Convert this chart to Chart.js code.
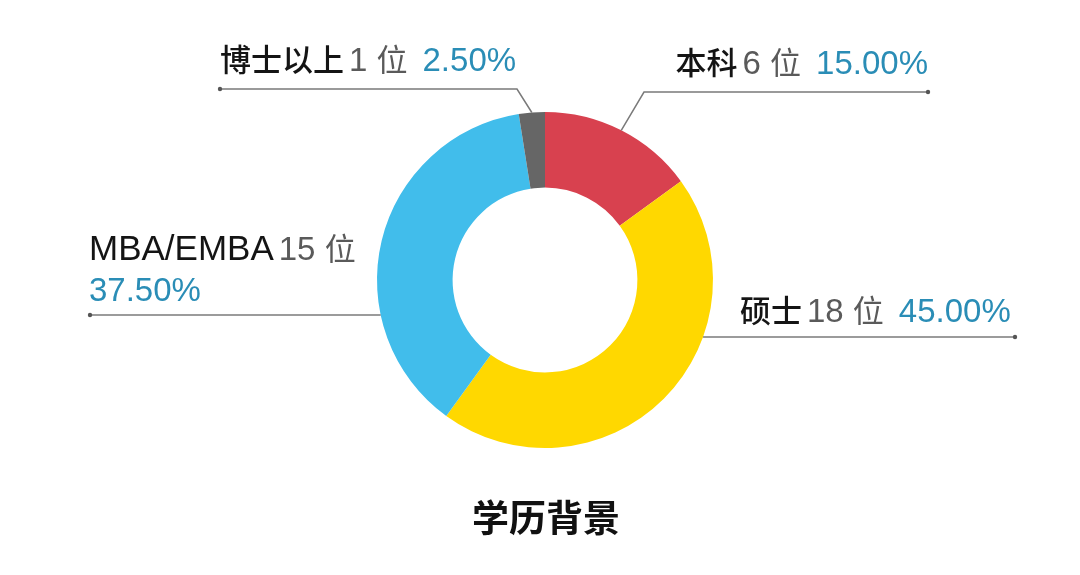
<!DOCTYPE html>
<html>
<head>
<meta charset="utf-8">
<script src="https://cdn.jsdelivr.net/npm/chart.js@4/dist/chart.umd.min.js"></script>
<style>
  html, body { margin: 0; padding: 0; background: #ffffff; }
  #wrap { width: 1080px; height: 575px; position: relative; }
</style>
</head>
<body>
<div id="wrap"><canvas id="c" width="1080" height="575"></canvas></div>
<script>
// ---- data ----
const categories = ['本科', '硕士', 'MBA/EMBA', '博士以上'];
const counts = [6, 18, 15, 1];
const unitLabel = '位';
const chartTitle = '学历背景';
const sliceColors = ['#D8414F', '#FFD800', '#41BDEB', '#666666'];

// ---- layout of callouts (positions only) ----
const callouts = [
  { kind: 'elbow', elbow: [644, 92], endX: 928, text: { x: 928, y: 74, align: 'right', twoLine: false } },
  { kind: 'flat', y: 337, endX: 1015, text: { x: 740, y: 322, align: 'left', twoLine: false } },
  { kind: 'flat', y: 315, endX: 90, text: { x: 89, y: 260, y2: 301, align: 'left', twoLine: true } },
  { kind: 'elbow', elbow: [517, 89], endX: 220, text: { x: 220, y: 71, align: 'left', twoLine: false } }
];

const total = counts.reduce((a, b) => a + b, 0);
const pctLabels = counts.map(v => (v / total * 100).toFixed(2) + '%');

const FONT_LATIN = '"Liberation Sans", Arial, "Noto Sans CJK SC", sans-serif';
const FONT_CJK = '"Noto Sans CJK SC", "Liberation Sans", sans-serif';

function runs(i) {
  const latinName = /^[A-Za-z]/.test(categories[i]);
  return [
    { t: categories[i], font: latinName ? ('35px ' + FONT_LATIN) : ('500 31px ' + FONT_CJK), color: '#141414', gap: 5 },
    { t: String(counts[i]) + ' ', font: '33px ' + FONT_LATIN, color: '#5a5a5a', gap: 0 },
    { t: unitLabel, font: '31px ' + FONT_CJK, color: '#5a5a5a', gap: 15 },
    { t: pctLabels[i], font: '33px ' + FONT_LATIN, color: '#2A8DB6', gap: 0 }
  ];
}

function drawRuns(ctx, list, x, y, align) {
  let w = 0;
  list.forEach((r, k) => { ctx.font = r.font; w += ctx.measureText(r.t).width + (k < list.length - 1 ? r.gap : 0); });
  let cx = align === 'right' ? x - w : x;
  list.forEach(r => {
    ctx.font = r.font; ctx.fillStyle = r.color;
    ctx.fillText(r.t, cx, y);
    cx += ctx.measureText(r.t).width + r.gap;
  });
}

const calloutPlugin = {
  id: 'callouts',
  afterDatasetsDraw(chart) {
    const ctx = chart.ctx;
    const meta = chart.getDatasetMeta(0);
    ctx.save();
    ctx.textBaseline = 'alphabetic';
    meta.data.forEach((arc, i) => {
      const p = arc.getProps(['x', 'y', 'startAngle', 'endAngle', 'outerRadius'], true);
      const c = callouts[i];
      ctx.strokeStyle = '#7a7a7a';
      ctx.lineWidth = 1.5;
      let end;
      ctx.beginPath();
      if (c.kind === 'elbow') {
        const a = (p.startAngle + p.endAngle) / 2;
        const sx = p.x + Math.cos(a) * p.outerRadius;
        const sy = p.y + Math.sin(a) * p.outerRadius;
        ctx.moveTo(sx, sy);
        ctx.lineTo(c.elbow[0], c.elbow[1]);
        ctx.lineTo(c.endX, c.elbow[1]);
        end = [c.endX, c.elbow[1]];
      } else {
        const dy = c.y - p.y;
        const dx = Math.sqrt(Math.max(0, p.outerRadius * p.outerRadius - dy * dy));
        const sx = c.endX > p.x ? p.x + dx : p.x - dx;
        ctx.moveTo(sx, c.y);
        ctx.lineTo(c.endX, c.y);
        end = [c.endX, c.y];
      }
      ctx.stroke();
      ctx.fillStyle = '#555555';
      ctx.beginPath();
      ctx.arc(end[0], end[1], 2.2, 0, Math.PI * 2);
      ctx.fill();

      const list = runs(i);
      if (c.text.twoLine) {
        drawRuns(ctx, list.slice(0, 3), c.text.x, c.text.y, c.text.align);
        drawRuns(ctx, list.slice(3), c.text.x, c.text.y2, c.text.align);
      } else {
        drawRuns(ctx, list, c.text.x, c.text.y, c.text.align);
      }
    });
    // title
    ctx.font = 'bold 37px ' + FONT_CJK;
    ctx.fillStyle = '#111111';
    ctx.textAlign = 'center';
    ctx.textBaseline = 'middle';
    ctx.fillText(chartTitle, 546, 518);
    ctx.restore();
  }
};

new Chart(document.getElementById('c'), {
  type: 'doughnut',
  data: {
    labels: categories,
    datasets: [{
      data: counts,
      backgroundColor: sliceColors,
      borderWidth: 0,
      hoverOffset: 0
    }]
  },
  options: {
    responsive: false,
    animation: false,
    cutout: '55%',
    layout: { padding: { top: 112, bottom: 127, left: 377, right: 367 } },
    plugins: {
      legend: { display: false },
      tooltip: { enabled: false },
      title: { display: false }
    }
  },
  plugins: [calloutPlugin]
});
</script>
</body>
</html>
